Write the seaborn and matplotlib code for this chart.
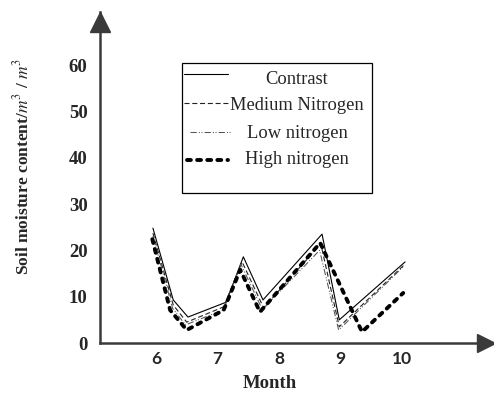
import matplotlib
matplotlib.use("Agg")
import matplotlib.pyplot as plt
import seaborn as sns
import pandas as pd

# ---- data ----
series_names = ["Contrast", "Medium Nitrogen", "Low nitrogen", "High nitrogen"]
contrast_x = [5.95, 6.28, 6.52, 7.14, 7.42, 7.74, 8.70, 8.98, 10.05]
contrast_y = [24.8, 9.3, 5.6, 8.8, 18.6, 9.3, 23.5, 5.0, 17.5]
medium_x = [5.95, 6.28, 6.50, 7.10, 7.40, 7.75, 8.68, 8.98, 10.03]
medium_y = [23.7, 8.2, 4.5, 7.8, 17.5, 7.6, 21.4, 3.5, 16.8]
low_x = [5.95, 6.27, 6.48, 7.10, 7.38, 7.73, 8.66, 8.97, 10.03]
low_y = [23.1, 7.5, 3.9, 7.2, 17.0, 7.2, 20.0, 2.8, 16.6]
high_x = [5.94, 6.23, 6.50, 7.10, 7.37, 7.69, 8.67, 9.35, 10.02]
high_y = [22.4, 7.1, 2.8, 7.1, 15.8, 6.7, 21.6, 2.4, 10.8]
x_ticks = [6, 7, 8, 9, 10]
y_ticks = [10, 20, 30, 40, 50, 60]
y_tick_labels = ["0", "10", "20", "30", "40", "50", "60"]
x_label = "Month"
y_label = "Soil moisture content/$m^3$ / $m^3$"

sns.set_theme(style="white")
plt.rcParams["font.family"] = ["Liberation Serif", "DejaVu Serif"]
plt.rcParams["mathtext.fontset"] = "stix"

W, H = 494, 394
fig = plt.figure(figsize=(W / 100, H / 100), dpi=100)
# axes spans from the y-axis (px 100) to the arrow tip (px 494), x-axis px 343 to top px 12
L, R, B, T = 100, 494, 343, 12
ax = fig.add_axes([L / W, 1 - B / H, (R - L) / W, (B - T) / H])

px_per_month = 61.5
px_per_unit = 4.633
ax.set_xlim(6 - (156 - L) / px_per_month, 6 + (R - 156) / px_per_month)
ax.set_ylim(0, (B - T) / px_per_unit)

frames = []
for name, xs, ys in [("Contrast", contrast_x, contrast_y),
                     ("Medium Nitrogen", medium_x, medium_y),
                     ("Low nitrogen", low_x, low_y),
                     ("High nitrogen", high_x, high_y)]:
    frames.append(pd.DataFrame({"month": xs, "moisture": ys, "series": name}))
df = pd.concat(frames, ignore_index=True)

styles = {
    "Contrast": dict(color="black", lw=0.8, ls="-"),
    "Medium Nitrogen": dict(color="#222222", lw=0.8, ls=(0, (4.5, 2.5))),
    "Low nitrogen": dict(color="#555555", lw=0.75, ls=(0, (6, 2, 1, 1.5, 1, 2))),
    "High nitrogen": dict(color="black", lw=2.8, ls=(0, (1.0, 1.6))),
}

for name in series_names:
    sub = df[df["series"] == name]
    st = styles[name]
    sns.lineplot(data=sub, x="month", y="moisture", ax=ax, sort=False,
                 estimator=None, color=st["color"], linewidth=st["lw"],
                 linestyle=st["ls"], legend=False)
for line in ax.get_lines():
    if line.get_linewidth() > 2:
        line.set_dash_capstyle("round")

# axes styling
axis_col = "#3a3a3a"
for s in ["top", "right"]:
    ax.spines[s].set_visible(False)
for s in ["left", "bottom"]:
    ax.spines[s].set_color(axis_col)
    ax.spines[s].set_linewidth(1.8)

ax.set_xticks(x_ticks)
ax.set_xticklabels([str(v) for v in x_ticks], fontfamily="Lato",
                   fontweight="bold", fontsize=12.5)
ax.set_yticks([0] + y_ticks)
ax.set_yticklabels(y_tick_labels, fontweight="bold", fontsize=13.5)
ax.tick_params(axis="x", direction="in", length=6.5, width=0.8, color="#666666", pad=6)
ax.tick_params(axis="y", direction="in", length=5, width=0.8, color="#666666", pad=9)
ax.yaxis.get_major_ticks()[0].tick1line.set_visible(False)

ax.set_xlabel(x_label, fontweight="bold", fontsize=13.5)
ax.xaxis.set_label_coords((270 - L) / (R - L), (B - 375) / (B - T))
ax.set_ylabel("")
fig.text(22 / W, 1 - 166 / H, y_label, rotation=90, ha="center", va="center",
         fontweight="bold", fontsize=12.5)

# arrow heads
ax.plot([0], [(B - 22) / (B - T)], marker="^", ms=14.5, color=axis_col,
        transform=ax.transAxes, clip_on=False)
ax.plot([(486 - L) / (R - L)], [0], marker=">", ms=13, color=axis_col,
        transform=ax.transAxes, clip_on=False)

# legend (drawn in figure pixel coordinates)
def fx(px):
    return px / W

def fy(py):
    return 1 - py / H

box = plt.Rectangle((fx(182), fy(193)), fx(372) - fx(182), fy(63) - fy(193),
                    transform=fig.transFigure, fill=False, edgecolor="black",
                    linewidth=0.9, clip_on=False)
fig.add_artist(box)
legend_rows = [(74, 79, 184, 228), (103, 106, 184, 228),
               (132, 133, 190, 230), (160, 160, 187, 228)]
for name, (yl, yt, x0, x1) in zip(series_names, legend_rows):
    st = styles[name]
    ln = matplotlib.lines.Line2D([fx(x0), fx(x1)], [fy(yl), fy(yl)],
                                 transform=fig.transFigure, color=st["color"],
                                 linewidth=st["lw"], linestyle=st["ls"])
    if st["lw"] > 2:
        ln.set_dash_capstyle("round")
    fig.add_artist(ln)
    fig.text(fx(297), fy(yt), name, ha="center", va="center", fontsize=13.3)

fig.savefig("out.png", dpi=100)
